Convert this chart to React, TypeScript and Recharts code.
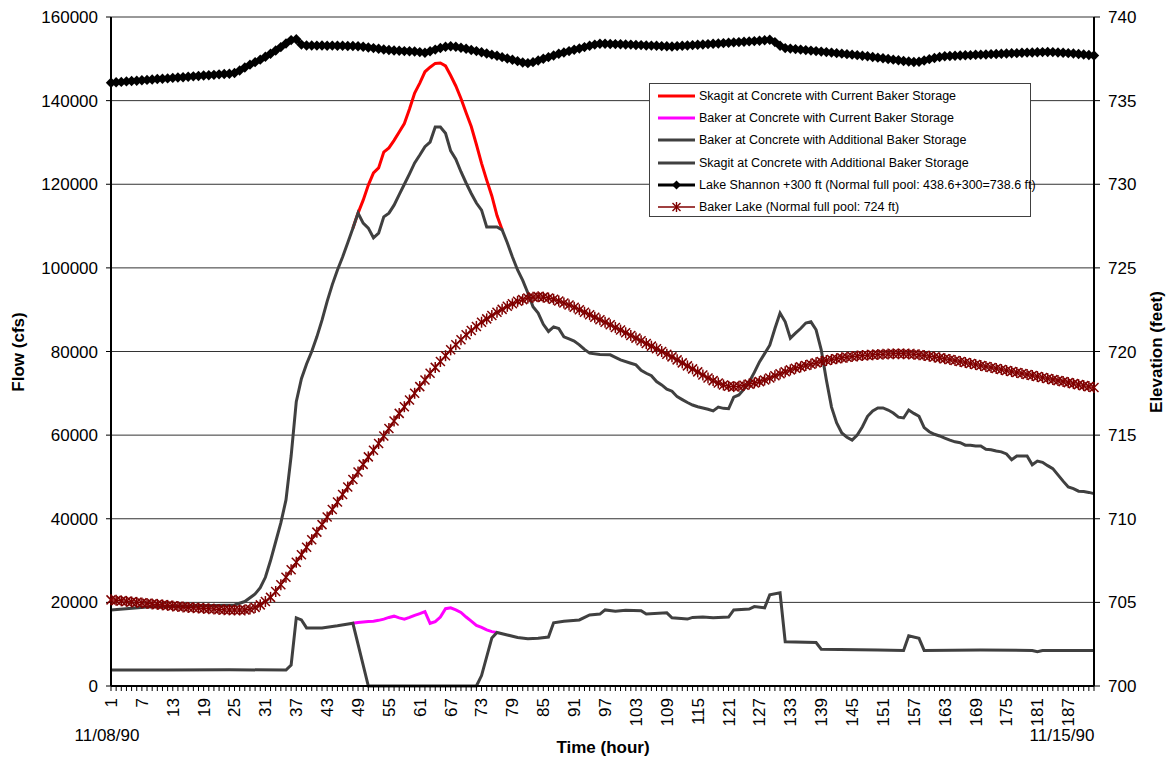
import React from 'react'
import { LineChart, Line, XAxis, YAxis, CartesianGrid } from 'recharts'

// x axis: hour of the event, 11/08/90 -> 11/15/90
const hourTicks = Array.from({ length: 192 }, (_, i) => i + 1)
const hourLabels = [1, 7, 13, 19, 25, 31, 37, 43, 49, 55, 61, 67, 73, 79, 85, 91, 97, 103, 109, 115, 121, 127, 133, 139, 145, 151, 157, 163, 169, 175, 181, 187]
const flowTicks = [0, 20000, 40000, 60000, 80000, 100000, 120000, 140000, 160000]
const elevTicks = [700, 705, 710, 715, 720, 725, 730, 735, 740]

// flow series, [hour, cfs]
const skagitCurrent: [number, number][] = [
  [48, 109500], [49, 113100], [50, 116200], [51, 119800], [52, 122700], [53, 123900], [54, 127700], [55, 128700],
  [56, 130500], [57, 132500], [58, 134500], [59, 138000], [60, 141800], [61, 144200], [62, 146900], [63, 148000],
  [64, 148900], [65, 149000], [66, 148300], [67, 146000], [68, 143500], [69, 140500], [70, 137100], [71, 133800],
  [72, 129500], [73, 125000], [74, 121000], [75, 117200], [76, 112500], [77, 109100],
]

const bakerCurrent: [number, number][] = [
  [48, 15000], [49, 15200], [50, 15300], [51, 15400], [52, 15500], [53, 15700], [54, 16000], [55, 16400],
  [56, 16700], [57, 16300], [58, 16000], [59, 16400], [60, 16900], [61, 17300], [62, 17800], [63, 15000],
  [64, 15400], [65, 16500], [66, 18500], [67, 18700], [68, 18200], [69, 17600], [70, 16500], [71, 15500],
  [72, 14500], [73, 14000], [74, 13400], [75, 13000], [76, 12800],
]

const bakerAdditional: [number, number][] = [
  [1, 3800], [12, 3800], [24, 3900], [35, 3800], [36, 5000], [37, 16300], [38, 15800], [39, 13900], [42, 13900],
  [45, 14400], [48, 15000], [51, 0], [60, 0], [72, 0], [73, 2500], [75, 11500], [76, 12800], [78, 12200],
  [80, 11600], [82, 11300], [84, 11400], [86, 11700], [87, 15100], [89, 15500], [92, 15800], [94, 17000],
  [96, 17200], [97, 18200], [99, 17900], [101, 18100], [104, 18000], [105, 17200], [109, 17500], [110, 16300],
  [113, 16000], [114, 16400], [116, 16500], [118, 16300], [121, 16500], [122, 18200], [125, 18400], [126, 19000],
  [128, 18700], [129, 21800], [131, 22300], [132, 10600], [138, 10400], [139, 8800], [150, 8600], [155, 8500],
  [156, 12000], [158, 11400], [159, 8500], [170, 8600], [180, 8500], [181, 8200], [182, 8500], [192, 8500],
]

const skagitAdditional: [number, number][] = [
  [1, 18200], [8, 18900], [15, 19100], [25, 19400], [27, 20200], [29, 22000], [30, 23500], [31, 26000],
  [32, 30000], [33, 34500], [34, 39000], [35, 44500], [36, 55000], [37, 68000], [38, 73500], [39, 77000],
  [40, 80000], [41, 83500], [42, 87500], [43, 92000], [44, 96000], [45, 99500], [46, 102600], [47, 106000],
  [48, 109500], [49, 113100], [50, 110700], [51, 109500], [52, 107200], [53, 108300], [54, 112200], [55, 113100],
  [56, 115000], [57, 117500], [58, 120000], [59, 122500], [60, 125100], [61, 127000], [62, 129000], [63, 130100],
  [64, 133700], [65, 133700], [66, 132200], [67, 128000], [68, 126000], [69, 123000], [70, 120300], [71, 117800],
  [72, 115500], [73, 113800], [74, 109800], [76, 109800], [77, 109100], [78, 106000], [79, 102600], [80, 99500],
  [81, 97000], [82, 94000], [83, 90700], [84, 89200], [85, 86500], [86, 84800], [87, 85900], [88, 85500],
  [89, 83500], [90, 83000], [91, 82500], [92, 81600], [93, 80500], [94, 79600], [96, 79300], [98, 79200],
  [99, 78600], [100, 78000], [102, 77200], [103, 76800], [104, 75500], [105, 74800], [106, 74200], [107, 72800],
  [108, 72000], [109, 71000], [110, 70500], [111, 69200], [112, 68500], [113, 67800], [114, 67200], [115, 66800],
  [116, 66500], [117, 66200], [118, 65800], [119, 66700], [120, 66400], [121, 66300], [122, 69100], [123, 69600],
  [124, 71000], [125, 72700], [126, 75000], [127, 77500], [128, 79500], [129, 81500], [130, 85500], [131, 89200],
  [132, 87100], [133, 83200], [134, 84400], [135, 85500], [136, 86800], [137, 87100], [138, 85200], [139, 80400],
  [140, 73200], [141, 66700], [142, 62900], [143, 60500], [144, 59500], [145, 58800], [146, 60000], [147, 62000],
  [148, 64500], [149, 65800], [150, 66500], [151, 66500], [152, 66000], [153, 65300], [154, 64300], [155, 64100],
  [156, 66000], [157, 65200], [158, 64500], [159, 61800], [160, 60800], [161, 60200], [162, 59800], [163, 59300],
  [164, 58800], [165, 58400], [166, 58200], [167, 57600], [168, 57600], [169, 57400], [170, 57400], [171, 56600],
  [172, 56500], [173, 56200], [174, 56000], [175, 55500], [176, 54100], [177, 55000], [178, 55000], [179, 55000],
  [180, 52900], [181, 53800], [182, 53500], [183, 52700], [184, 52000], [185, 50500], [186, 49000], [187, 47600],
  [188, 47200], [189, 46600], [190, 46500], [191, 46300], [192, 46000],
]

// elevation series, one value per hour (1..192), feet
const lakeShannon = [
  736.07, 736.10, 736.12, 736.15, 736.17, 736.19, 736.22, 736.24, 736.26, 736.29,
  736.31, 736.33, 736.36, 736.38, 736.40, 736.43, 736.45, 736.47, 736.50, 736.52,
  736.54, 736.57, 736.59, 736.61, 736.65, 736.80, 736.98, 737.15, 737.30, 737.45,
  737.62, 737.80, 738.00, 738.20, 738.42, 738.62, 738.67, 738.35, 738.30, 738.30,
  738.29, 738.30, 738.28, 738.29, 738.28, 738.28, 738.27, 738.27, 738.25, 738.22,
  738.18, 738.14, 738.10, 738.06, 738.03, 738.00, 737.98, 737.96, 737.95, 737.94,
  737.90, 737.86, 737.95, 738.05, 738.15, 738.22, 738.25, 738.22, 738.16, 738.10,
  738.03, 737.96, 737.89, 737.82, 737.75, 737.68, 737.60, 737.52, 737.44, 737.36,
  737.28, 737.24, 737.30, 737.40, 737.50, 737.60, 737.70, 737.80, 737.88, 737.96,
  738.04, 738.12, 738.20, 738.28, 738.35, 738.40, 738.40, 738.39, 738.38, 738.37,
  738.36, 738.35, 738.33, 738.32, 738.30, 738.29, 738.28, 738.26, 738.25, 738.24,
  738.26, 738.28, 738.30, 738.32, 738.34, 738.36, 738.38, 738.40, 738.42, 738.44,
  738.46, 738.48, 738.50, 738.52, 738.54, 738.56, 738.58, 738.61, 738.64, 738.50,
  738.28, 738.14, 738.11, 738.08, 738.05, 738.02, 737.99, 737.96, 737.93, 737.90,
  737.87, 737.84, 737.81, 737.78, 737.75, 737.72, 737.68, 737.65, 737.61, 737.57,
  737.53, 737.49, 737.45, 737.41, 737.37, 737.34, 737.31, 737.32, 737.40, 737.48,
  737.55, 737.61, 737.65, 737.67, 737.68, 737.70, 737.71, 737.72, 737.74, 737.75,
  737.76, 737.78, 737.79, 737.80, 737.82, 737.83, 737.84, 737.86, 737.87, 737.88,
  737.89, 737.90, 737.91, 737.90, 737.88, 737.86, 737.84, 737.82, 737.79, 737.76,
  737.73, 737.70,
]

const bakerLake = [
  705.15, 705.12, 705.09, 705.06, 705.03, 705.00, 704.97, 704.94, 704.91, 704.88,
  704.85, 704.82, 704.79, 704.76, 704.73, 704.70, 704.68, 704.66, 704.64, 704.62,
  704.60, 704.58, 704.56, 704.55, 704.54, 704.54, 704.55, 704.60, 704.70, 704.85,
  705.05, 705.30, 705.65, 706.05, 706.50, 706.95, 707.40, 707.85, 708.30, 708.75,
  709.20, 709.65, 710.10, 710.55, 711.00, 711.45, 711.90, 712.35, 712.80, 713.25,
  713.70, 714.10, 714.50, 714.95, 715.40, 715.85, 716.30, 716.70, 717.10, 717.50,
  717.90, 718.30, 718.70, 719.05, 719.40, 719.75, 720.10, 720.40, 720.70, 721.00,
  721.25, 721.50, 721.75, 721.95, 722.15, 722.35, 722.52, 722.70, 722.85, 723.00,
  723.10, 723.20, 723.25, 723.28, 723.25, 723.20, 723.12, 723.02, 722.90, 722.78,
  722.65, 722.50, 722.35, 722.20, 722.05, 721.90, 721.75, 721.60, 721.44, 721.28,
  721.12, 720.96, 720.80, 720.64, 720.48, 720.32, 720.16, 720.00, 719.84, 719.68,
  719.50, 719.32, 719.14, 718.96, 718.78, 718.60, 718.42, 718.26, 718.12, 718.00,
  717.92, 717.90, 717.92, 717.98, 718.05, 718.12, 718.20, 718.30, 718.42, 718.55,
  718.67, 718.79, 718.90, 719.00, 719.08, 719.16, 719.24, 719.32, 719.40, 719.46,
  719.52, 719.57, 719.62, 719.66, 719.70, 719.73, 719.76, 719.78, 719.80, 719.82,
  719.84, 719.85, 719.86, 719.86, 719.86, 719.85, 719.83, 719.80, 719.76, 719.72,
  719.67, 719.62, 719.57, 719.52, 719.46, 719.40, 719.34, 719.28, 719.22, 719.16,
  719.10, 719.04, 718.98, 718.92, 718.86, 718.80, 718.74, 718.68, 718.62, 718.56,
  718.50, 718.44, 718.38, 718.32, 718.26, 718.20, 718.14, 718.08, 718.02, 717.96,
  717.90, 717.85,
]

const legendLabels = [
  'Skagit at Concrete with Current Baker Storage',
  'Baker at Concrete with Current Baker Storage',
  'Baker at Concrete with Additional Baker Storage',
  'Skagit at Concrete with Additional Baker Storage',
  'Lake Shannon +300 ft (Normal full pool: 438.6+300=738.6 ft)',
  'Baker Lake (Normal full pool: 724 ft)',
]

const FONT = '"Liberation Sans", Arial, sans-serif'
const GREY = '#404040'
const MAROON = '#800000'

const toFlow = (pts: [number, number][]) => pts.map(([hour, flow]) => ({ hour, flow }))
const toElev = (vals: number[]) => vals.map((elev, i) => ({ hour: i + 1, elev }))

const diamond = (cx: number, cy: number, r: number) =>
  `M${cx},${cy - r}L${cx + r},${cy}L${cx},${cy + r}L${cx - r},${cy}Z`

function DiamondDot(props: any) {
  const { cx, cy, index } = props
  if (cx == null || cy == null) return <g key={`dd${index}`} />
  return <path key={`dd${index}`} d={diamond(cx, cy, 5.2)} fill="#000" />
}

function StarDot(props: any) {
  const { cx, cy, index } = props
  if (cx == null || cy == null) return <g key={`sd${index}`} />
  return (
    <g key={`sd${index}`} stroke={MAROON} strokeWidth={1.5}>
      <line x1={cx - 4.5} y1={cy - 4.5} x2={cx + 4.5} y2={cy + 4.5} />
      <line x1={cx - 4.5} y1={cy + 4.5} x2={cx + 4.5} y2={cy - 4.5} />
      <line x1={cx} y1={cy - 5.5} x2={cx} y2={cy + 5.5} />
    </g>
  )
}

function HourTick(props: any) {
  const { x, y, payload } = props
  if (!hourLabels.includes(payload.value)) return <g />
  return (
    <text x={x} y={y} transform={`rotate(-90 ${x} ${y})`} textAnchor="end" dy="0.35em"
      fontSize={17} fontFamily={FONT} fill="#000">
      {payload.value}
    </text>
  )
}

function LegendSample({ i }: { i: number }) {
  const colors = ['#FF0000', '#FF00FF', GREY, GREY]
  return (
    <svg width={40} height={12} style={{ display: 'block' }}>
      {i < 4 && <line x1={1} y1={6} x2={38} y2={6} stroke={colors[i]} strokeWidth={3} />}
      {i === 4 && (
        <g>
          <line x1={1} y1={6} x2={38} y2={6} stroke="#000" strokeWidth={3} />
          <path d={diamond(19.5, 6, 4.5)} fill="#000" />
        </g>
      )}
      {i === 5 && (
        <g>
          <line x1={1} y1={6} x2={38} y2={6} stroke={MAROON} strokeWidth={1.5} />
          <g stroke={MAROON} strokeWidth={1.4}>
            <line x1={15.5} y1={2} x2={23.5} y2={10} />
            <line x1={15.5} y1={10} x2={23.5} y2={2} />
            <line x1={19.5} y1={1} x2={19.5} y2={11} />
          </g>
        </g>
      )}
    </svg>
  )
}

export default function App() {
  return (
    <div style={{ position: 'absolute', left: 0, top: 0, width: 1168, height: 757, background: '#fff', fontFamily: FONT }}>
      <LineChart width={1168} height={757} margin={{ top: 17, right: 0, bottom: 0, left: 0 }}>
        <CartesianGrid yAxisId="flow" vertical={false} stroke="#333" strokeWidth={1} />
        <XAxis dataKey="hour" type="number" domain={[1, 192]} ticks={hourTicks} interval={0}
          height={71} tickSize={5} tickMargin={7} tick={<HourTick />}
          axisLine={{ stroke: '#000', strokeWidth: 2 }} tickLine={{ stroke: '#000' }} />
        <YAxis yAxisId="flow" domain={[0, 160000]} ticks={flowTicks} width={111} tickSize={5} tickMargin={8}
          tick={{ fontSize: 17, fill: '#000', fontFamily: FONT }}
          axisLine={{ stroke: '#000', strokeWidth: 2 }} tickLine={{ stroke: '#000' }} />
        <YAxis yAxisId="elev" orientation="right" domain={[700, 740]} ticks={elevTicks} width={74} tickSize={6} tickMargin={8}
          tick={{ fontSize: 17, fill: '#000', fontFamily: FONT }}
          axisLine={{ stroke: '#000', strokeWidth: 2 }} tickLine={{ stroke: '#000' }} />

        <Line yAxisId="flow" data={toFlow(skagitCurrent)} dataKey="flow" type="linear" stroke="#FF0000"
          strokeWidth={3} dot={false} isAnimationActive={false} />
        <Line yAxisId="flow" data={toFlow(bakerCurrent)} dataKey="flow" type="linear" stroke="#FF00FF"
          strokeWidth={3} dot={false} isAnimationActive={false} />
        <Line yAxisId="flow" data={toFlow(bakerAdditional)} dataKey="flow" type="linear" stroke={GREY}
          strokeWidth={3} dot={false} isAnimationActive={false} />
        <Line yAxisId="flow" data={toFlow(skagitAdditional)} dataKey="flow" type="linear" stroke={GREY}
          strokeWidth={3} dot={false} isAnimationActive={false} />
        <Line yAxisId="elev" data={toElev(lakeShannon)} dataKey="elev" type="linear" stroke="#000"
          strokeWidth={3.5} dot={DiamondDot} isAnimationActive={false} />
        <Line yAxisId="elev" data={toElev(bakerLake)} dataKey="elev" type="linear" stroke={MAROON}
          strokeWidth={1.5} dot={StarDot} isAnimationActive={false} />
      </LineChart>

      <svg width={1168} height={757} style={{ position: 'absolute', left: 0, top: 0, pointerEvents: 'none' }}>
        <text x={18} y={352} transform="rotate(-90 18 352)" textAnchor="middle" dy="0.35em"
          fontSize={17} fontWeight="bold" fontFamily={FONT}>Flow (cfs)</text>
        <text x={1156} y={352} transform="rotate(-90 1156 352)" textAnchor="middle" dy="0.35em"
          fontSize={17} fontWeight="bold" fontFamily={FONT}>Elevation (feet)</text>
        <text x={603} y={747} textAnchor="middle" dy="0.35em" fontSize={17} fontWeight="bold" fontFamily={FONT}>Time (hour)</text>
        <text x={107} y={735} textAnchor="middle" dy="0.35em" fontSize={17} fontFamily={FONT}>11/08/90</text>
        <text x={1062} y={735} textAnchor="middle" dy="0.35em" fontSize={17} fontFamily={FONT}>11/15/90</text>
      </svg>

      <div style={{ position: 'absolute', left: 649, top: 83, width: 382, height: 134, boxSizing: 'border-box',
        border: `1px solid ${GREY}`, background: '#fff' }}>
        {legendLabels.map((label, i) => (
          <div key={label} style={{ position: 'absolute', left: 7, top: 1 + i * 22.2, height: 22, display: 'flex',
            alignItems: 'center', fontSize: 12.5, color: '#000', whiteSpace: 'nowrap' }}>
            <LegendSample i={i} />
            <span style={{ marginLeft: 2 }}>{label}</span>
          </div>
        ))}
      </div>
    </div>
  )
}
